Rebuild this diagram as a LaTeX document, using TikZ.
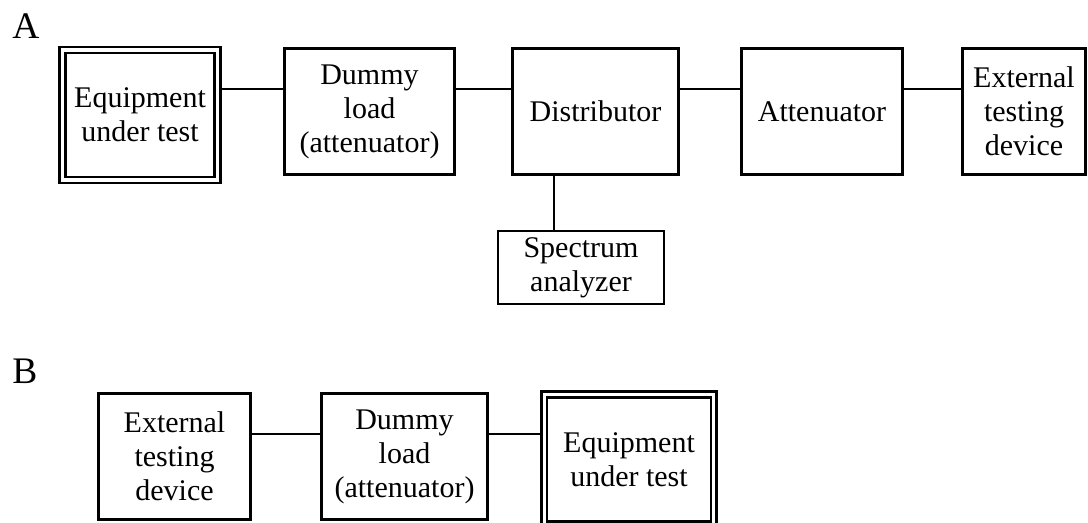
\documentclass[tikz,border=0pt]{standalone}
\usepackage{fontspec}
\setmainfont{Liberation Serif}
\usetikzlibrary{calc}

\begin{document}
\begin{tikzpicture}[x=0.4pt, y=-0.4pt,
    box/.style={draw, line width=1.1pt, inner sep=0pt, outer sep=0pt, align=center,
      minimum height=50.4pt, font=\fontsize{12}{13.6}\selectfont},
    eut/.style={box, double, line width=1pt, double distance=1.3pt, outer sep=1.65pt, minimum height=52pt},
    link/.style={line width=0.8pt},
    tag/.style={anchor=base west, inner sep=0pt, font=\fontsize{15}{18}\selectfont}]
    \useasboundingbox (0,0) rectangle (1088,522);
    % set-up A
    \node[tag] (labA) at (12,38) {A};
    \node[eut, minimum width=62pt] (eutA) at (140,115) {Equipment\\under test};
    \node[box, minimum width=68pt] (dummyA) at (369.5,111.5) {Dummy\\load\\(attenuator)};
    \node[box, minimum width=66.4pt] (distA) at (595.5,111.5) {Distributor};
    \node[box, minimum width=64.4pt] (attA) at (822,111.5) {Attenuator};
    \node[box, minimum width=49.2pt] (extA) at (1024,111.5) {External\\testing\\device};
    \node[box, line width=0.8pt, minimum width=66.4pt, minimum height=29.2pt] (specA) at (581,267.5) {Spectrum\\analyzer};
    \draw[link] ([yshift=9pt]dummyA.west) -- ([yshift=9pt]dummyA.west -| eutA.east);
    \draw[link] ([yshift=9pt]dummyA.east) -- ([yshift=9pt]distA.west);
    \draw[link] ([yshift=9pt]distA.east) -- ([yshift=9pt]attA.west);
    \draw[link] ([yshift=9pt]attA.east) -- ([yshift=9pt]extA.west);
    \draw[link] ($(distA.south west)!0.25!(distA.south east)$) coordinate (tap) -- (tap |- specA.north);
    % set-up B
    \node[tag] (labB) at (12,383) {B};
    \node[box, minimum width=60.8pt] (extB) at (174.5,456.5) {External\\testing\\device};
    \node[box, minimum width=66.4pt] (dummyB) at (404.5,456.5) {Dummy\\load\\(attenuator)};
    \node[eut, minimum width=67.8pt] (eutB) at (629,459.5) {Equipment\\under test};
    \draw[link] ([yshift=9.2pt]extB.east) -- ([yshift=9.2pt]dummyB.west);
    \draw[link] ([yshift=9.2pt]dummyB.east) -- ([yshift=9.2pt]dummyB.east -| eutB.west);
\end{tikzpicture}
\end{document}
